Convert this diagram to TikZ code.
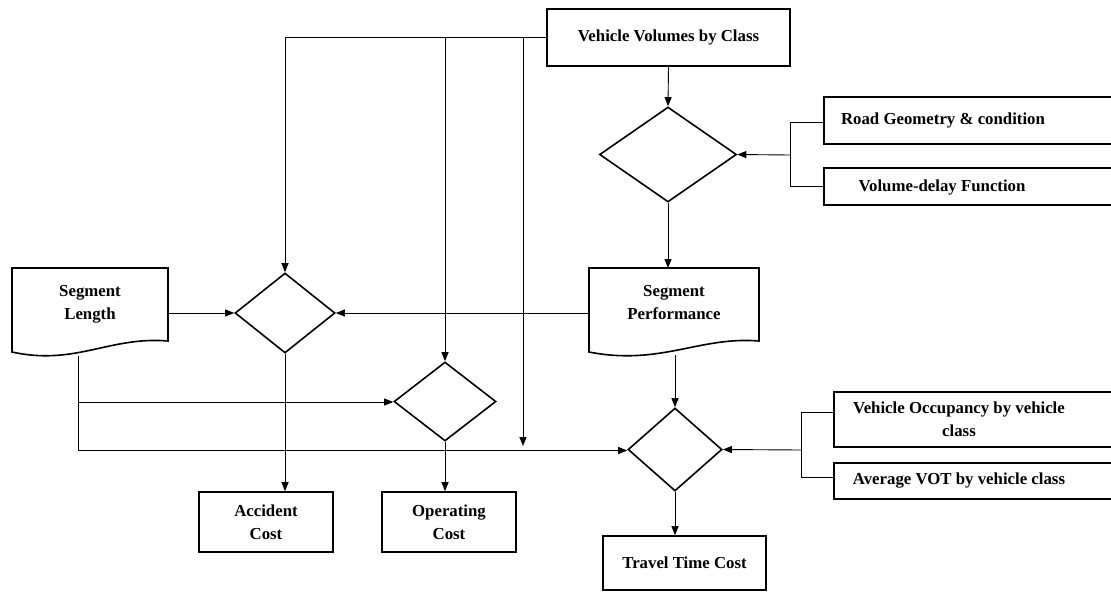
\documentclass[tikz,border=0pt]{standalone}
\usepackage{fontspec}
\setmainfont{Liberation Serif}
\usetikzlibrary{arrows.meta,shapes.geometric,calc}
\tikzset{
  shp/.style={line width=1.6pt},
  conn/.style={line width=0.9pt},
  arr/.style={conn,-{Triangle[length=9pt,width=7pt]}},
  boxn/.style={shp,draw,rectangle,inner sep=0pt,align=center,font=\fontsize{16.8}{23}\selectfont\bfseries},
  dia/.style={shp,draw,diamond,inner sep=0pt},
  txt/.style={align=center,inner sep=0pt,font=\fontsize{16.8}{23}\selectfont\bfseries}
}
\begin{document}
\begin{tikzpicture}[x=1pt,y=-1pt]
\useasboundingbox[fill=white] (0,0) rectangle (1111,592);
% boxes
\node[boxn,minimum width=243pt,minimum height=57pt] (vv) at (668.5,37.5) {Vehicle Volumes by Class};
\node[boxn,minimum width=290pt,minimum height=47pt,anchor=west] (rg) at (823,120.5) {};
\node[txt] (rgt) at (943,120) {Road Geometry \& condition};
\node[boxn,minimum width=290pt,minimum height=37pt,anchor=west] (vd) at (823,186.5) {};
\node[txt] (vdt) at (942,187) {Volume-delay Function};
\node[boxn,minimum width=280pt,minimum height=55pt,anchor=west] (vo) at (833,419.5) {};
\node[txt] (vot) at (959,419) {Vehicle Occupancy by vehicle\\class};
\node[boxn,minimum width=280pt,minimum height=36pt,anchor=west] (av) at (833,481) {};
\node[txt] (avt) at (959,481) {Average VOT by vehicle class};
\node[boxn,minimum width=134pt,minimum height=60pt] (ac) at (266,522) {Accident\\Cost};
\node[boxn,minimum width=134pt,minimum height=60pt] (oc) at (449,522) {Operating\\Cost};
\node[boxn,minimum width=163pt,minimum height=54pt] (tc) at (684.5,563) {Travel Time Cost};
% diamonds
\node[dia,minimum width=137pt,minimum height=95pt] (d1) at (668,154.5) {};
\node[dia,minimum width=100pt,minimum height=80pt] (ad) at (285,313) {};
\node[dia,minimum width=102pt,minimum height=79pt] (od) at (445,401.5) {};
\node[dia,minimum width=94pt,minimum height=83pt] (td) at (675,449.5) {};
% documents
\draw[shp] (12,268) -- (168,268) -- (168,341) .. controls (110,336) and (75,366) .. (12,352) -- cycle;
\node[txt] (sl) at (90,304) {Segment\\Length};
\draw[shp] (589,268) -- (759,268) -- (759,341) .. controls (700,336) and (660,366) .. (589,352) -- cycle;
\node[txt] (sp) at (674,303) {Segment\\Performance};
\coordinate (slr) at (168,313);
\coordinate (spl) at (589,313);
\coordinate (slb) at (78,356);
\coordinate (spb) at (675,355);
\coordinate (fr) at (523,446);
\coordinate (b1) at (790,155);
\coordinate (b2) at (801,450);
% connectors
\draw[arr] (vv.west) -| (ad.north);
\draw[arr] (vv.west) -| (od.north);
\draw[arr] (vv.west) -| (fr);
\draw[arr] (vv.south) -- (d1.north);
\draw[conn] ([yshift=-1.5pt]rg.west) -| (b1);
\draw[conn] (vd.west) -| (b1);
\draw[arr] (b1) -- (d1.east);
\draw[arr] (d1.south) -- (d1.south |- 0,268);
\draw[arr] (slr) -- (ad.west);
\draw[arr] (spl) -- (ad.east);
\draw[arr] (slb) |- ([yshift=-0.5pt]od.west);
\draw[arr] (slb) |- ([yshift=-1pt]td.west);
\draw[arr] (ad.south) -- (ac.north -| ad.south);
\draw[arr] (od.south) -- (oc.north -| od.south);
\draw[arr] (spb) -- (td.north);
\draw[arr] (td.south) -- (tc.north -| td.south);
\draw[conn] ([yshift=7.5pt]vo.west) -| (b2);
\draw[conn] ([yshift=4pt]av.west) -| (b2);
\draw[arr] (b2) -- (td.east);
\end{tikzpicture}
\end{document}
